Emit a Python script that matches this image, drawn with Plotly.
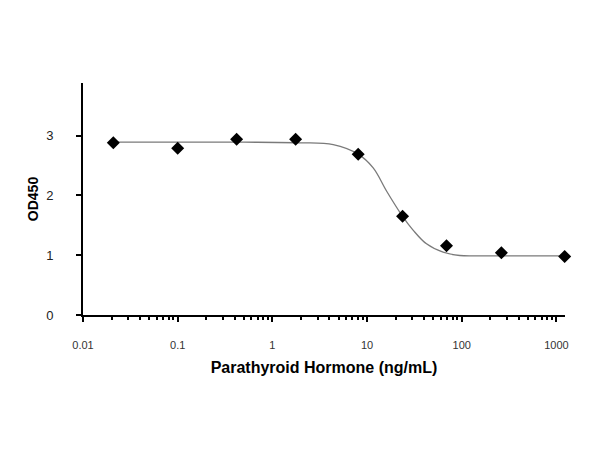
import plotly.graph_objects as go

# Measured points (ng/mL, OD450)
conc = [0.0209, 0.1, 0.419, 1.76, 8.05, 23.7, 69, 262, 1220]
od = [2.88, 2.79, 2.94, 2.94, 2.69, 1.65, 1.16, 1.04, 0.98]

# Fitted curve
curve_x = [0.0209, 0.5, 1.95, 4.39, 8.05, 11.6, 16.1, 23.7, 30.6, 42.4, 63.5, 95.3, 155, 400, 1220]
curve_y = [2.89, 2.89, 2.88, 2.85, 2.69, 2.46, 2.07, 1.65, 1.42, 1.19, 1.05, 0.995, 0.99, 0.99, 0.99]

x_ticks = [0.01, 0.1, 1, 10, 100, 1000]
x_ticklabels = ["0.01", "0.1", "1", "10", "100", "1000"]
y_ticks = [0, 1, 2, 3]

minor_vals = [d * k for d in x_ticks[:-1] for k in range(2, 10)]

fig = go.Figure()
fig.add_trace(go.Scatter(
    x=curve_x, y=curve_y, mode="lines",
    line=dict(color="#7a7a7a", width=1.3, shape="spline", smoothing=1.0),
    hoverinfo="skip", showlegend=False, cliponaxis=False,
))
fig.add_trace(go.Scatter(
    x=conc, y=od, mode="markers",
    marker=dict(symbol="diamond", size=10, color="black"),
    showlegend=False, cliponaxis=False,
))

fig.update_layout(
    width=600, height=450,
    margin=dict(l=75, r=43, t=75, b=143),
    paper_bgcolor="white", plot_bgcolor="white",
    font=dict(family="Liberation Sans, Arial, sans-serif", color="#222"),
)
fig.update_xaxes(
    type="log", range=[-2, 3.09], automargin=False,
    tickmode="array", tickvals=x_ticks, ticktext=x_ticklabels,
    ticks="outside", ticklen=5, tickwidth=2, tickcolor="black",
    minor=dict(tickmode="array", tickvals=minor_vals, ticks="outside",
               ticklen=3, tickwidth=2, tickcolor="black", showgrid=False),
    showline=True, linecolor="black", linewidth=2,
    showgrid=False, zeroline=False,
    tickfont=dict(size=11, color="#333"),
    ticklabelstandoff=14,
    title=dict(text="<b>Parathyroid Hormone (ng/mL)</b>", font=dict(size=16, color="black"), standoff=12),
)
fig.update_yaxes(
    range=[0, 3.88], automargin=False,
    tickmode="array", tickvals=y_ticks,
    ticks="outside", ticklen=5, tickwidth=2, tickcolor="black",
    showline=True, linecolor="black", linewidth=2,
    showgrid=False, zeroline=False,
    tickfont=dict(size=13, color="#222"),
    ticklabelstandoff=20,
    title=dict(text="<b>OD450</b>", font=dict(size=14, color="black"), standoff=4),
)

fig.write_html("out.html")
